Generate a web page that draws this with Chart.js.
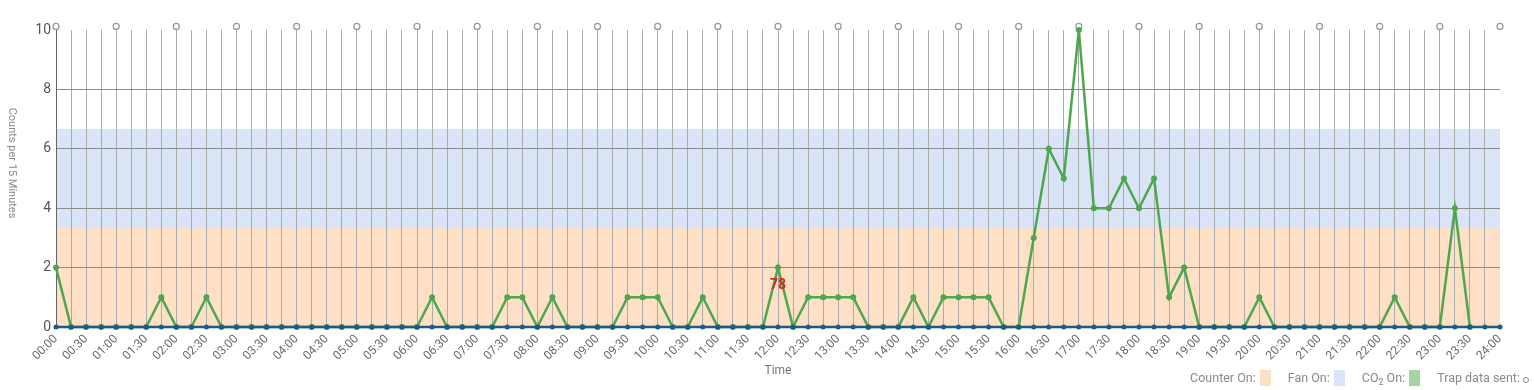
<!DOCTYPE html>
<html>
<head>
<meta charset="utf-8">
<script src="https://cdn.jsdelivr.net/npm/chart.js@4.4.1/dist/chart.umd.min.js"></script>
<style>
  html, body { margin: 0; padding: 0; background: #fff; }
  #wrap { position: relative; width: 1534px; height: 390px; font-family: Roboto, sans-serif; }
  #legend {
    position: absolute; right: 5px; top: 370px;
    display: flex; align-items: center;
    font-size: 12.5px; color: #8a8a8a; line-height: 16px; white-space: nowrap;
  }
  #legend .item { display: flex; align-items: center; margin-left: 17px; }
  #legend .box { display: inline-block; width: 11px; height: 16px; margin-left: 4px; }
  #legend .sub { font-size: 9px; position: relative; top: 4px; margin-right: 3px; }
  #legend .ring { display: inline-block; width: 4px; height: 4px; border: 1px solid #888; border-radius: 50%; margin-left: 3px; margin-top: 3px; }
</style>
</head>
<body>
<div id="wrap">
  <canvas id="chart" width="1534" height="390"></canvas>
  <div id="legend">
    <span class="item">Counter On:<span class="box" style="background:#fde0c5"></span></span>
    <span class="item">Fan On:<span class="box" style="background:#d9e4f6"></span></span>
    <span class="item">CO<span class="sub">2</span>On:<span class="box" style="background:#a4d6a4"></span></span>
    <span class="item">Trap data sent:<span class="ring"></span></span>
  </div>
</div>
<script>
const times = [
  '00:00','00:15','00:30','00:45','01:00','01:15','01:30','01:45','02:00','02:15','02:30','02:45',
  '03:00','03:15','03:30','03:45','04:00','04:15','04:30','04:45','05:00','05:15','05:30','05:45',
  '06:00','06:15','06:30','06:45','07:00','07:15','07:30','07:45','08:00','08:15','08:30','08:45',
  '09:00','09:15','09:30','09:45','10:00','10:15','10:30','10:45','11:00','11:15','11:30','11:45',
  '12:00','12:15','12:30','12:45','13:00','13:15','13:30','13:45','14:00','14:15','14:30','14:45',
  '15:00','15:15','15:30','15:45','16:00','16:15','16:30','16:45','17:00','17:15','17:30','17:45',
  '18:00','18:15','18:30','18:45','19:00','19:15','19:30','19:45','20:00','20:15','20:30','20:45',
  '21:00','21:15','21:30','21:45','22:00','22:15','22:30','22:45','23:00','23:15','23:30','23:45',
  '24:00'
];

// x tick labels shown (every half hour)
const tickLabels = [
  '00:00','00:30','01:00','01:30','02:00','02:30','03:00','03:30','04:00','04:30','05:00','05:30',
  '06:00','06:30','07:00','07:30','08:00','08:30','09:00','09:30','10:00','10:30','11:00','11:30',
  '12:00','12:30','13:00','13:30','14:00','14:30','15:00','15:30','16:00','16:30','17:00','17:30',
  '18:00','18:30','19:00','19:30','20:00','20:30','21:00','21:30','22:00','22:30','23:00','23:30',
  '24:00'
];

// insect counts per 15 minutes (green line)
const counts = [
  2, 0, 0, 0, 0, 0, 0, 1, 0, 0, 1, 0,
  0, 0, 0, 0, 0, 0, 0, 0, 0, 0, 0, 0,
  0, 1, 0, 0, 0, 0, 1, 1, 0, 1, 0, 0,
  0, 0, 1, 1, 1, 0, 0, 1, 0, 0, 0, 0,
  2, 0, 1, 1, 1, 1, 0, 0, 0, 1, 0, 1,
  1, 1, 1, 0, 0, 3, 6, 5, 10, 4, 4, 5,
  4, 5, 1, 2, 0, 0, 0, 0, 1, 0, 0, 0,
  0, 0, 0, 0, 0, 1, 0, 0, 0, 4, 0, null,
  null
];

// baseline series (dark blue)
const baseline = [
  0, 0, 0, 0, 0, 0, 0, 0, 0, 0, 0, 0,
  0, 0, 0, 0, 0, 0, 0, 0, 0, 0, 0, 0,
  0, 0, 0, 0, 0, 0, 0, 0, 0, 0, 0, 0,
  0, 0, 0, 0, 0, 0, 0, 0, 0, 0, 0, 0,
  0, 0, 0, 0, 0, 0, 0, 0, 0, 0, 0, 0,
  0, 0, 0, 0, 0, 0, 0, 0, 0, 0, 0, 0,
  0, 0, 0, 0, 0, 0, 0, 0, 0, 0, 0, 0,
  0, 0, 0, 0, 0, 0, 0, 0, 0, 0, 0, 0,
  0
];

// trap data sent markers (drawn just above the top of the scale)
const trapTimes = [
  '00:00','01:00','02:00','03:00','04:00','05:00','06:00','07:00','08:00','09:00','10:00','11:00',
  '12:00','13:00','14:00','15:00','16:00','17:00','18:00','19:00','20:00','21:00','22:00','23:00','24:00'
];
const trapLevel = 10.12;

// device state bands
const bandNames = ['Counter On', 'Fan On'];
const bandStart = ['00:00', '00:00'];
const bandEnd = ['24:00', '24:00'];
const bandFloor = [0, 3.33];
const bandCeil = [3.33, 6.67];
const bandColors = ['#fde0c5', '#d9e4f6'];

// value notes written under points
const noteTimes = ['12:00'];
const noteTexts = ['78'];

const yTicks = [0, 2, 4, 6, 8, 10];

const trapData = times.map(t => (trapTimes.includes(t) ? trapLevel : null));

const bandsPlugin = {
  id: 'bands',
  beforeDraw(chart) {
    const { ctx, scales: { x, y } } = chart;
    ctx.save();
    bandNames.forEach((_, i) => {
      const x0 = x.getPixelForValue(times.indexOf(bandStart[i]));
      const x1 = x.getPixelForValue(times.indexOf(bandEnd[i]));
      const y0 = y.getPixelForValue(bandCeil[i]);
      const y1 = y.getPixelForValue(bandFloor[i]);
      ctx.fillStyle = bandColors[i];
      ctx.fillRect(x0, y0, x1 - x0, y1 - y0);
    });
    ctx.restore();
  },
};

const extrasPlugin = {
  id: 'extras',
  afterDatasetsDraw(chart) {
    const { ctx, scales: { x, y } } = chart;
    ctx.save();
    ctx.fillStyle = '#d8251b';
    ctx.font = 'bold 14px Roboto, sans-serif';
    ctx.textAlign = 'center';
    ctx.textBaseline = 'middle';
    noteTimes.forEach((t, i) => {
      const idx = times.indexOf(t);
      ctx.fillText(noteTexts[i], x.getPixelForValue(idx), y.getPixelForValue(counts[idx]) + 18);
    });
    // y axis title, reading top to bottom
    ctx.translate(12, 163);
    ctx.rotate(Math.PI / 2);
    ctx.fillStyle = '#8a8a8a';
    ctx.font = '11px Roboto, sans-serif';
    ctx.fillText('Counts per 15 Minutes', 0, 0);
    ctx.restore();
  },
};

new Chart(document.getElementById('chart'), {
  type: 'line',
  data: {
    labels: times,
    datasets: [
      {
        data: baseline,
        borderColor: '#1d5a8a',
        backgroundColor: '#1d5a8a',
        borderWidth: 2.5,
        pointRadius: 2.5,
        pointBorderWidth: 0,
        clip: false,
        order: 0,
      },
      {
        data: counts,
        borderColor: '#4ea64e',
        backgroundColor: '#4ea64e',
        borderWidth: 2.5,
        pointRadius: 3,
        pointBorderWidth: 0,
        tension: 0,
        clip: false,
        order: 1,
      },
      {
        data: trapData,
        showLine: false,
        pointStyle: 'circle',
        pointRadius: 3,
        pointBorderWidth: 1.3,
        pointBorderColor: '#9a9a9a',
        pointBackgroundColor: '#ffffff',
        clip: false,
        order: 2,
      },
    ],
  },
  options: {
    responsive: false,
    animation: false,
    layout: { padding: { top: 30, right: 34, left: 0, bottom: 0 } },
    plugins: { legend: { display: false }, tooltip: { enabled: false } },
    scales: {
      x: {
        offset: false,
        afterFit: (s) => { s.height = 63; },
        grid: {
          drawTicks: false,
          color: (c) => (c.index < times.length - 1 ? '#ababab' : 'transparent'),
        },
        border: { display: false },
        ticks: {
          autoSkip: false,
          maxRotation: 45,
          minRotation: 45,
          padding: 5,
          color: '#6a6a6a',
          font: { family: 'Roboto', size: 12 },
          callback: (v, i) => (tickLabels.includes(times[i]) ? times[i] : ''),
        },
        title: {
          display: true,
          text: 'Time',
          color: '#777',
          font: { family: 'Roboto', size: 12 },
          padding: { top: 0, bottom: 12 },
        },
      },
      y: {
        min: 0,
        max: 10,
        afterFit: (s) => { s.width = 56; },
        afterBuildTicks: (s) => { s.ticks = yTicks.map(v => ({ value: v })); },
        grid: {
          drawTicks: false,
          color: (c) => (c.tick.value > 0 && c.tick.value < 10 ? '#8c8c8c' : 'transparent'),
        },
        border: { display: true, color: '#666', width: 1 },
        ticks: {
          padding: 5,
          color: '#555',
          font: { family: 'Roboto', size: 14 },
        },
      },
    },
  },
  plugins: [bandsPlugin, extrasPlugin],
});
</script>
</body>
</html>
